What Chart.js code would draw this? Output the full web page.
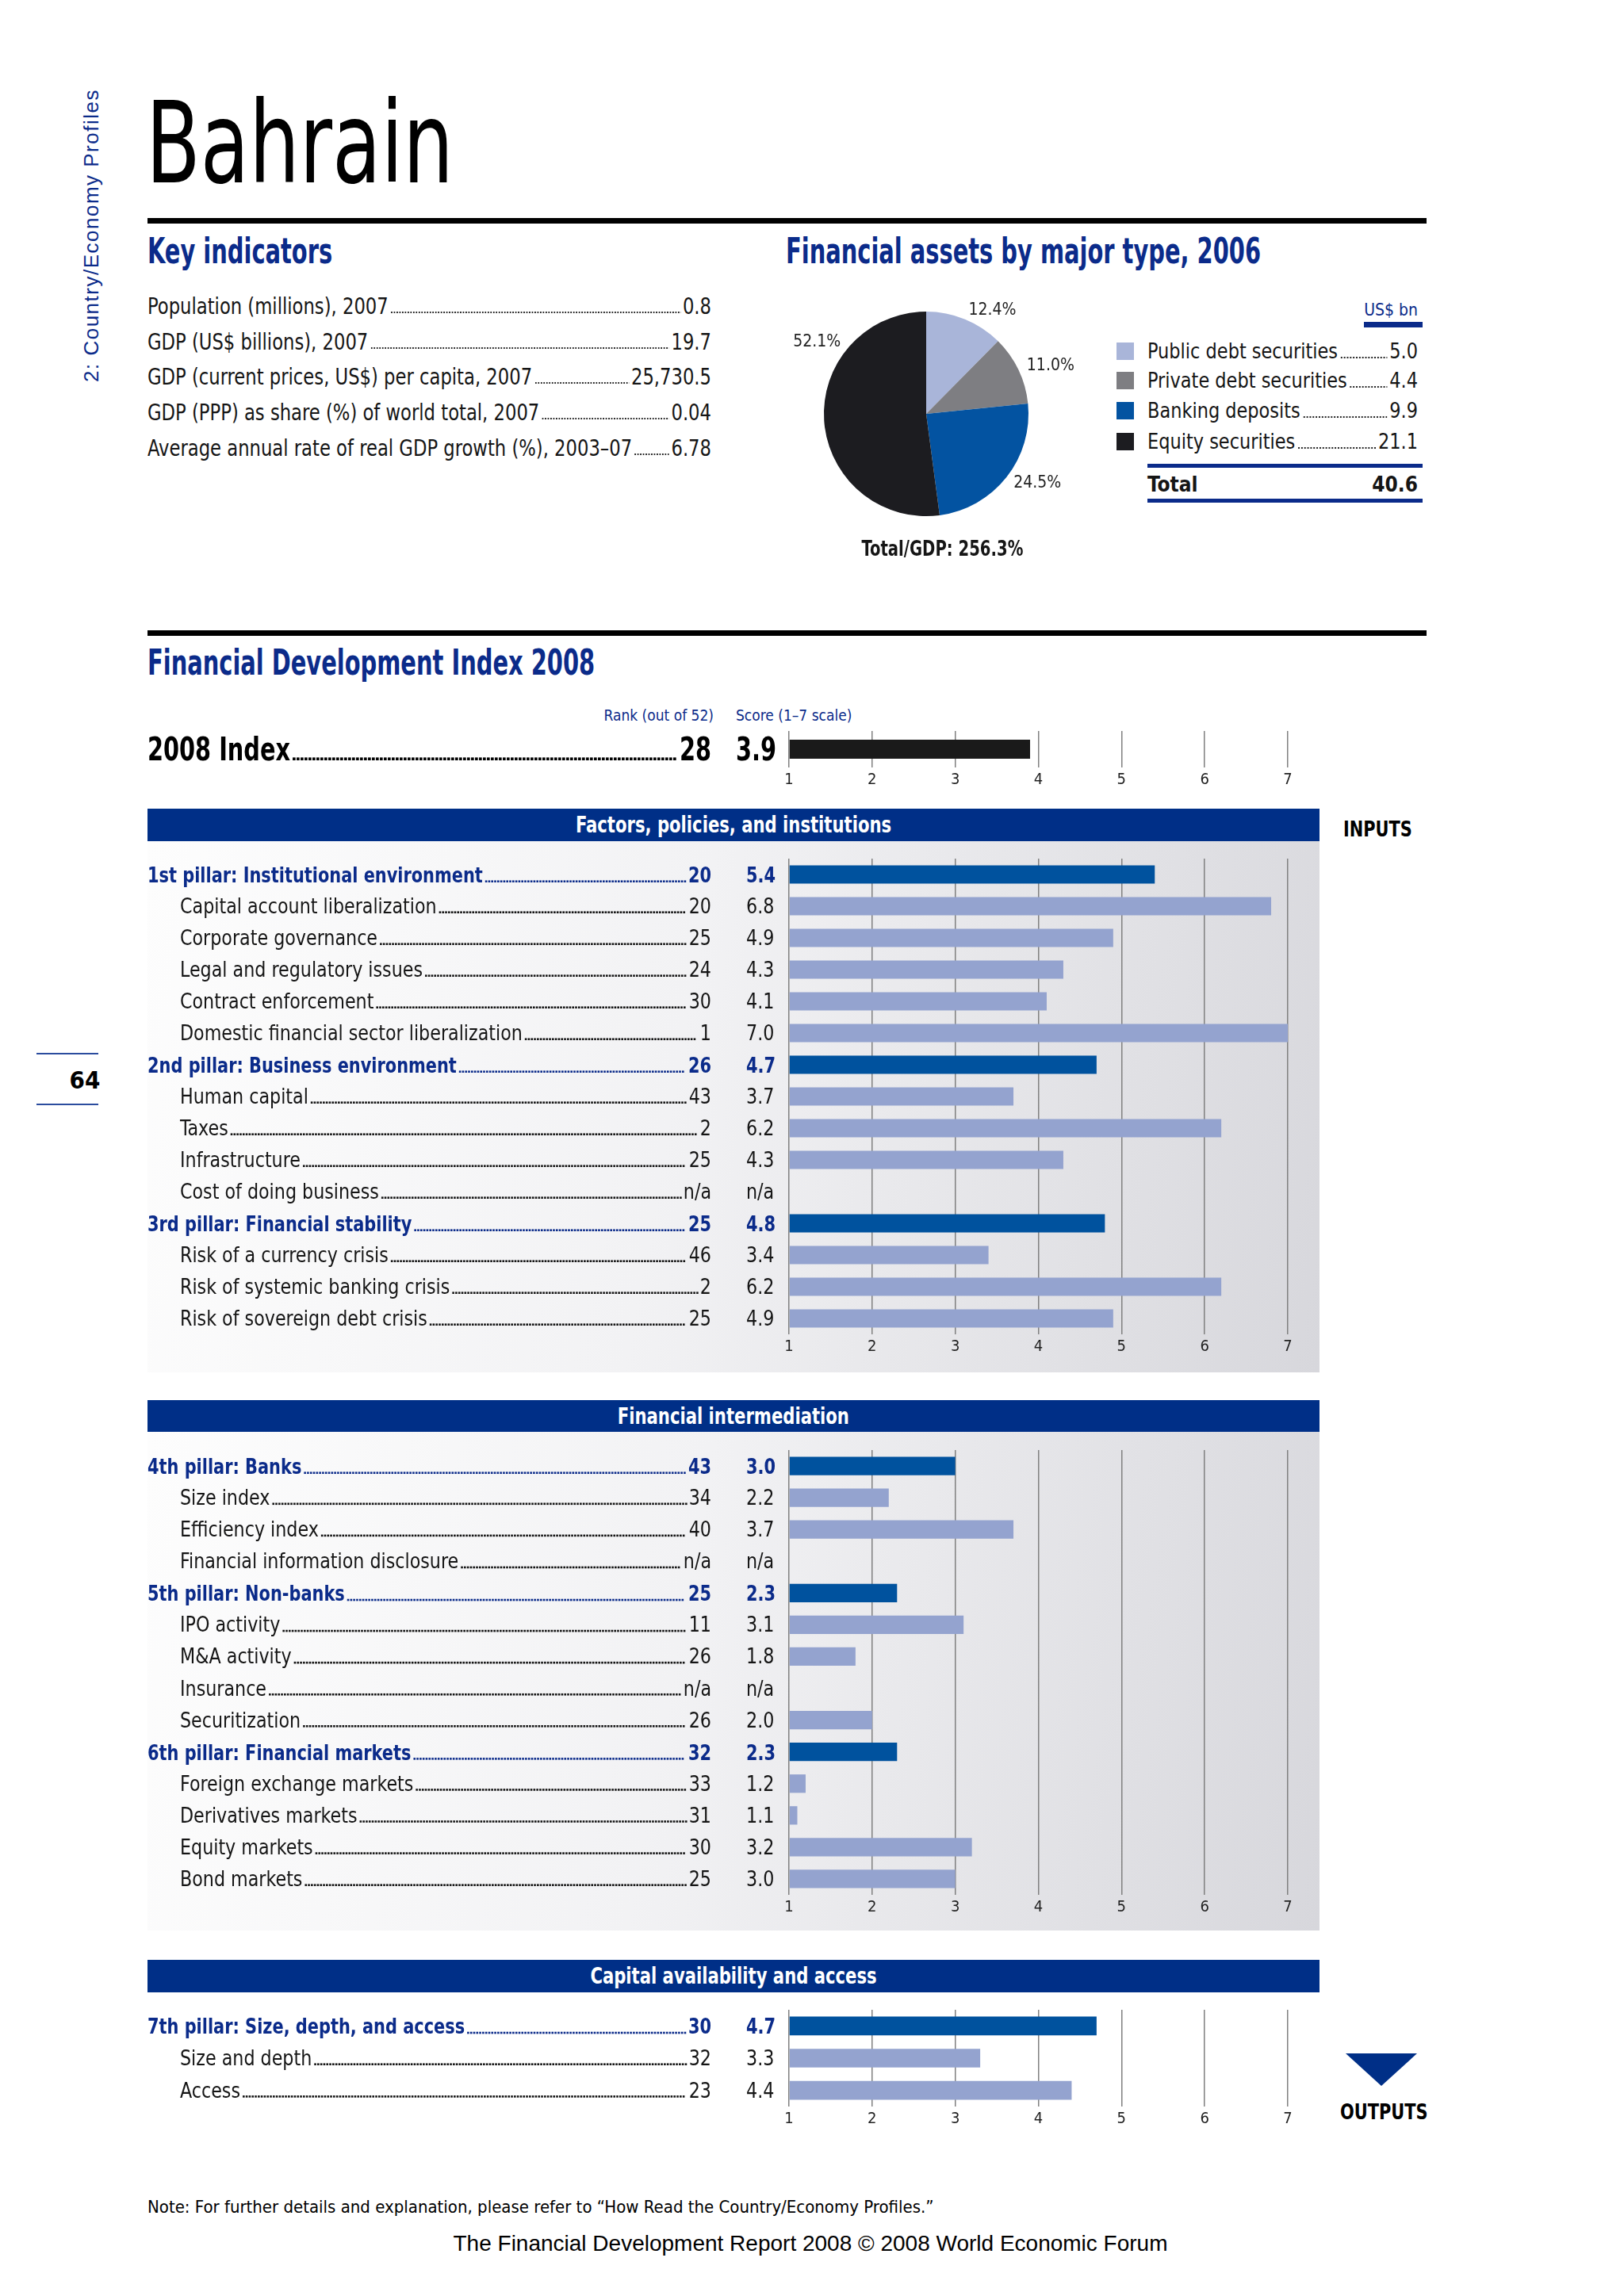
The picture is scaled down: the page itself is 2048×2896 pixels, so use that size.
<!DOCTYPE html>
<html>
<head>
<meta charset="utf-8">
<title>Bahrain</title>
<script src="https://cdn.jsdelivr.net/npm/chart.js@4.4.1/dist/chart.umd.min.js"></script>
<style>
html, body { margin: 0; padding: 0; background: #fff; }
#page { position: relative; width: 2048px; height: 2896px; overflow: hidden;
  font-family: "Liberation Sans Narrow", "DejaVu Sans Condensed", sans-serif; color: #151515; }
.t { position: absolute; white-space: nowrap; line-height: 40px; height: 40px; }
.sx { display: inline-block; transform-origin: left center; }
.blue { color: #0b2b8a; }
.b { font-weight: bold; }
.rule { position: absolute; left: 186px; width: 1613px; height: 7px; background: #000; }
.row { position: absolute; display: flex; white-space: nowrap; line-height: 40px; height: 40px; transform-origin: left center; }
.row .lead { flex: 1; height: 4px; margin: 0 3px 10px 3px; align-self: flex-end;
  background-image: radial-gradient(circle, #222 46%, transparent 56%);
  background-size: 4px 4px; background-repeat: repeat-x; }
.head { position: absolute; left: 186px; width: 1478px; height: 41px; background: #002f87;
  color: #fff; font-weight: bold; font-size: 28px; line-height: 41px; text-align: center; }
.head span { display: inline-block; transform: scaleX(0.84); transform-origin: center; }
.panel { position: absolute; left: 186px; width: 1478px;
  background: linear-gradient(100deg, #fdfdfd 0%, #f2f2f4 45%, #d7d7dc 100%); }
.cv { position: absolute; left: 186px; width: 1478px; }
.sq { position: absolute; width: 22px; height: 22px; }
.h2 { font-size: 44px; line-height: 44px; height: 44px; }
.h2 span { transform: scaleX(0.73); }
</style>
</head>
<body>
<div id="page">
  <div class="t blue" style="left:-65px;top:282px;width:360px;text-align:center;font-family:'Liberation Sans',sans-serif;font-size:26px;letter-spacing:1.5px;transform:rotate(-90deg);">2: Country/Economy Profiles</div>
  <div class="t" style="left:184px;top:110px;font-size:142px;line-height:142px;height:142px;color:#000;"><span class="sx" style="transform:scaleX(0.785);">Bahrain</span></div>
  <div class="rule" style="top:275px;"></div>

  <div class="t blue b h2" style="left:186px;top:295px;"><span class="sx">Key indicators</span></div>
  <div id="keyRows"></div>

  <div class="t blue b h2" style="left:991px;top:295px;"><span class="sx">Financial assets by major type, 2006</span></div>
  <div style="position:absolute;left:948px;top:342px;width:440px;height:360px;">
    <canvas id="pie"></canvas>
  </div>
  <div class="t blue" style="left:1688px;top:371px;width:100px;text-align:right;font-size:21px;">US$ bn</div>
  <div style="position:absolute;left:1720px;top:406px;width:74px;height:7px;background:#0b2b8a;"></div>
  <div id="legendRows"></div>
  <div style="position:absolute;left:1447px;top:585px;width:347px;height:5px;background:#0b2b8a;"></div>
  <div id="totalRow"></div>
  <div style="position:absolute;left:1447px;top:629px;width:347px;height:5px;background:#0b2b8a;"></div>
  <div class="t b" style="left:988px;top:672px;width:400px;text-align:center;font-size:26px;"><span id="totalGdp" class="sx" style="transform:scaleX(0.84);transform-origin:center;"></span></div>

  <div class="rule" style="top:795px;"></div>
  <div class="t blue b h2" style="left:186px;top:814px;"><span class="sx">Financial Development Index 2008</span></div>
  <div class="t blue" style="left:700px;top:882px;width:200px;text-align:right;font-size:19px;">Rank (out of 52)</div>
  <div class="t blue" style="left:928px;top:882px;font-size:19px;">Score (1–7 scale)</div>
  <div class="cv" style="top:912px;height:98px;"><canvas id="indexChart"></canvas></div>

  <div class="head" style="top:1020px;"><span>Factors, policies, and institutions</span></div>
  <div class="t b" style="left:1694px;top:1026px;font-size:27px;color:#000;"><span class="sx" style="transform:scaleX(0.86);">INPUTS</span></div>
  <div class="panel" style="top:1061px;height:670px;"></div>
  <div class="cv" style="top:1073px;height:652px;"><canvas id="sec1"></canvas></div>

  <div class="head" style="top:1766px;"><span>Financial intermediation</span></div>
  <div class="panel" style="top:1806px;height:629px;"></div>
  <div class="cv" style="top:1819px;height:613px;"><canvas id="sec2"></canvas></div>

  <div class="head" style="top:2472px;"><span>Capital availability and access</span></div>
  <div class="cv" style="top:2525px;height:174px;"><canvas id="sec3"></canvas></div>
  <div style="position:absolute;left:1697px;top:2590px;width:0;height:0;border-left:45px solid transparent;border-right:45px solid transparent;border-top:41px solid #002f87;"></div>
  <div class="t b" style="left:1690px;top:2644px;font-size:27px;color:#000;"><span class="sx" style="transform:scaleX(0.86);">OUTPUTS</span></div>

  <div style="position:absolute;left:46px;top:1328px;width:78px;height:2px;background:#2b4c9e;"></div>
  <div class="t b" style="left:46px;top:1342px;width:122px;text-align:center;font-size:31px;color:#000;">64</div>
  <div style="position:absolute;left:46px;top:1392px;width:78px;height:2px;background:#2b4c9e;"></div>

  <div class="t" style="left:186px;top:2764px;font-size:22px;color:#000;">Note: For further details and explanation, please refer to “How Read the Country/Economy Profiles.”</div>
  <div class="t" style="left:522px;top:2810px;width:1000px;text-align:center;font-family:'Liberation Sans',sans-serif;font-size:28px;color:#000;">The Financial Development Report 2008 © 2008 World Economic Forum</div>
</div>

<script>
// Key indicators
const keyLabels = [
  "Population (millions), 2007",
  "GDP (US$ billions), 2007",
  "GDP (current prices, US$) per capita, 2007",
  "GDP (PPP) as share (%) of world total, 2007",
  "Average annual rate of real GDP growth (%), 2003–07"
];
const keyValues = ["0.8", "19.7", "25,730.5", "0.04", "6.78"];

// Financial assets, 2006
const assetLabels = ["Public debt securities", "Private debt securities", "Banking deposits", "Equity securities"];
const assetValues = [5.0, 4.4, 9.9, 21.1];
const assetShares = [12.4, 11.0, 24.5, 52.1];
const assetColors = ["#a9b5d9", "#7e7e82", "#0353a1", "#1c1c20"];
const assetTotal = "40.6";
const totalToGdp = "256.3%";

// Index 2008
const indexLabels = ["2008 Index"];
const indexRanks = ["28"];
const indexScores = [3.9];
const scoreTicks = [1, 2, 3, 4, 5, 6, 7];

// Factors, policies, and institutions
const sec1Labels = [
  "1st pillar: Institutional environment", "Capital account liberalization", "Corporate governance",
  "Legal and regulatory issues", "Contract enforcement", "Domestic financial sector liberalization",
  "2nd pillar: Business environment", "Human capital", "Taxes", "Infrastructure", "Cost of doing business",
  "3rd pillar: Financial stability", "Risk of a currency crisis", "Risk of systemic banking crisis",
  "Risk of sovereign debt crisis"
];
const sec1Ranks = ["20", "20", "25", "24", "30", "1", "26", "43", "2", "25", "n/a", "25", "46", "2", "25"];
const sec1Scores = [5.4, 6.8, 4.9, 4.3, 4.1, 7.0, 4.7, 3.7, 6.2, 4.3, null, 4.8, 3.4, 6.2, 4.9];
const sec1Pillar = [1, 0, 0, 0, 0, 0, 1, 0, 0, 0, 0, 1, 0, 0, 0];

// Financial intermediation
const sec2Labels = [
  "4th pillar: Banks", "Size index", "Efficiency index", "Financial information disclosure",
  "5th pillar: Non-banks", "IPO activity", "M&A activity", "Insurance", "Securitization",
  "6th pillar: Financial markets", "Foreign exchange markets", "Derivatives markets", "Equity markets", "Bond markets"
];
const sec2Ranks = ["43", "34", "40", "n/a", "25", "11", "26", "n/a", "26", "32", "33", "31", "30", "25"];
const sec2Scores = [3.0, 2.2, 3.7, null, 2.3, 3.1, 1.8, null, 2.0, 2.3, 1.2, 1.1, 3.2, 3.0];
const sec2Pillar = [1, 0, 0, 0, 1, 0, 0, 0, 0, 1, 0, 0, 0, 0];

// Capital availability and access
const sec3Labels = ["7th pillar: Size, depth, and access", "Size and depth", "Access"];
const sec3Ranks = ["30", "32", "23"];
const sec3Scores = [4.7, 3.3, 4.4];
const sec3Pillar = [1, 0, 0];

const FONT = '"Liberation Sans Narrow", "DejaVu Sans Condensed", sans-serif';
const BLUE = "#0b2b8a";
const PILLAR_BAR = "#00529e";
const SUB_BAR = "#94a3cf";
const RANK_X = 711;   // right edge of rank, canvas coords
const SCORE_X = 755;  // left edge of score

Chart.defaults.font.family = FONT;
Chart.defaults.animation = false;

// HTML rows with dotted leaders, laid out wide then squeezed
function leaderRow(left, top, width, label, value, style, sx) {
  const r = document.createElement("div");
  r.className = "row";
  r.style.cssText = `left:${left}px;top:${top}px;width:${width / sx}px;transform:scaleX(${sx});` + (style || "");
  r.innerHTML = `<span>${label}</span><span class="lead"></span><span>${value}</span>`;
  return r;
}

const keyBox = document.getElementById("keyRows");
keyLabels.forEach((lab, i) => {
  keyBox.appendChild(leaderRow(186, 366 + i * 44.7, 711, lab, keyValues[i], "font-size:29px;", 0.87));
});

const legBox = document.getElementById("legendRows");
const legendY = [443, 480, 518, 557];
assetLabels.forEach((lab, i) => {
  const sq = document.createElement("div");
  sq.className = "sq";
  sq.style.cssText = `left:1408px;top:${legendY[i] - 11}px;background:${assetColors[i]};`;
  legBox.appendChild(sq);
  legBox.appendChild(leaderRow(1447, legendY[i] - 20, 341, lab, assetValues[i].toFixed(1), "font-size:26px;", 0.96));
});
const tot = document.createElement("div");
tot.className = "row b";
tot.style.cssText = "left:1447px;top:591px;width:341px;font-size:26px;justify-content:space-between;";
tot.innerHTML = `<span>Total</span><span>${assetTotal}</span>`;
document.getElementById("totalRow").appendChild(tot);
document.getElementById("totalGdp").textContent = "Total/GDP: " + totalToGdp;

// Pie with outside percentage labels
const pieLabels = {
  id: "pieLabels",
  afterDatasetsDraw(chart) {
    const ctx = chart.ctx;
    ctx.save();
    ctx.font = "21px " + FONT;
    ctx.fillStyle = "#222";
    ctx.textBaseline = "middle";
    chart.getDatasetMeta(0).data.forEach((arc, i) => {
      const mid = (arc.startAngle + arc.endAngle) / 2;
      const ang = Math.max(mid, arc.endAngle - 50 * Math.PI / 180);
      const r = arc.outerRadius * 1.09;
      ctx.textAlign = Math.cos(ang) >= 0 ? "left" : "right";
      ctx.fillText(assetShares[i].toFixed(1) + "%", arc.x + Math.cos(ang) * r, arc.y + Math.sin(ang) * r);
    });
    ctx.restore();
  }
};

new Chart(document.getElementById("pie"), {
  type: "pie",
  data: {
    labels: assetLabels,
    datasets: [{ data: assetShares, backgroundColor: assetColors, borderWidth: 0 }]
  },
  options: {
    responsive: true,
    maintainAspectRatio: false,
    layout: { padding: { left: 91, right: 91, top: 51, bottom: 51 } },
    plugins: { legend: { display: false }, tooltip: { enabled: false } }
  },
  plugins: [pieLabels]
});

// squeezed canvas text
function sqText(ctx, text, x, y, align, sx) {
  ctx.save();
  ctx.translate(x, y);
  ctx.scale(sx, 1);
  ctx.textAlign = align;
  ctx.fillText(text, 0, 0);
  ctx.restore();
  return ctx.measureText(text).width * sx;
}

// Left-hand text for bar rows: label ...... rank  score
function rowText(labels, ranks, scores, kind) {
  return {
    id: "rowText",
    afterDraw(chart) {
      const ctx = chart.ctx, y = chart.scales.y;
      ctx.save();
      ctx.textBaseline = "alphabetic";
      labels.forEach((lab, i) => {
        const k = kind[i];
        const size = k === 2 ? 40 : (k === 1 ? 27 : 26);
        const sx = k === 2 ? 0.8 : (k === 1 ? 0.86 : 0.95);
        ctx.font = (k ? "bold " : "") + size + "px " + FONT;
        ctx.fillStyle = k === 1 ? BLUE : (k === 2 ? "#000" : "#151515");
        const base = y.getPixelForValue(i) + Math.round(size * 0.36);
        const x0 = k ? 0 : 41;
        const lw = sqText(ctx, lab, x0, base, "left", sx);
        const rw = ctx.measureText(ranks[i]).width * sx;
        const dot = k === 2 ? 3.6 : 2.6, step = k === 2 ? 5 : 3.8;
        for (let x = x0 + lw + 3; x < RANK_X - rw - 2 - dot; x += step) {
          ctx.fillRect(x, base - dot, dot, dot);
        }
        sqText(ctx, ranks[i], RANK_X, base, "right", sx);
        const s = scores[i] == null ? "n/a" : scores[i].toFixed(1);
        sqText(ctx, s, k === 2 ? 742 : SCORE_X, base, "left", sx);
      });
      ctx.restore();
    }
  };
}

function barChart(id, labels, ranks, scores, kind, colorFn, pct) {
  return new Chart(document.getElementById(id), {
    type: "bar",
    data: {
      labels: labels,
      datasets: [{
        data: scores,
        base: 1,
        backgroundColor: colorFn,
        borderWidth: 0,
        barPercentage: pct,
        categoryPercentage: 1
      }]
    },
    options: {
      indexAxis: "y",
      responsive: true,
      maintainAspectRatio: false,
      layout: { padding: { left: 809, right: 40, top: 10, bottom: 10 } },
      scales: {
        y: { type: "category", display: false },
        x: {
          type: "linear", min: 1, max: 7,
          afterBuildTicks: (s) => { s.ticks = scoreTicks.map(v => ({ value: v })); },
          ticks: { font: { size: 20 }, color: "#222", padding: 4 },
          grid: { color: "#808080", lineWidth: 1.5, drawTicks: false },
          border: { display: false }
        }
      },
      plugins: { legend: { display: false }, tooltip: { enabled: false } }
    },
    plugins: [rowText(labels, ranks, scores, kind)]
  });
}

barChart("indexChart", indexLabels, indexRanks, indexScores, [2], () => "#1a1a1a", 0.52);
barChart("sec1", sec1Labels, sec1Ranks, sec1Scores, sec1Pillar,
  (c) => sec1Pillar[c.dataIndex] ? PILLAR_BAR : SUB_BAR, 0.58);
barChart("sec2", sec2Labels, sec2Ranks, sec2Scores, sec2Pillar,
  (c) => sec2Pillar[c.dataIndex] ? PILLAR_BAR : SUB_BAR, 0.58);
barChart("sec3", sec3Labels, sec3Ranks, sec3Scores, sec3Pillar,
  (c) => sec3Pillar[c.dataIndex] ? PILLAR_BAR : SUB_BAR, 0.58);
</script>
</body>
</html>
